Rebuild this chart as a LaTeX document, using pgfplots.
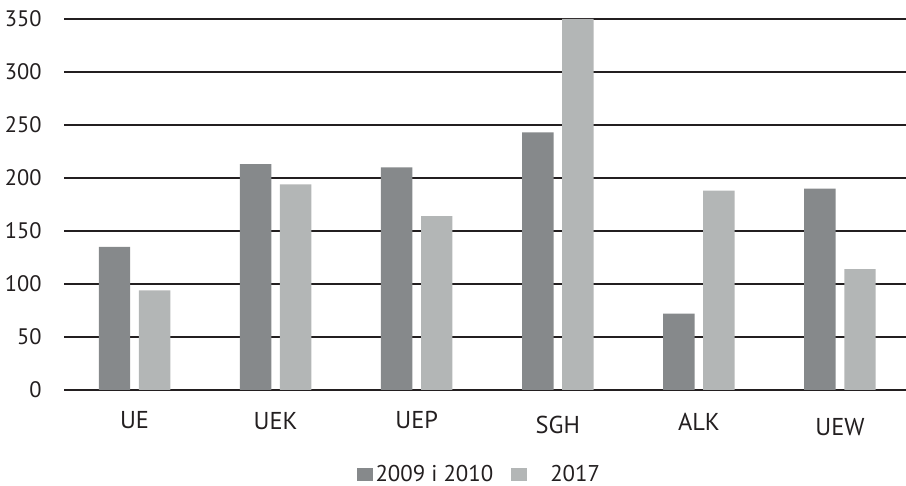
\documentclass[border=0pt]{standalone}
\usepackage{pgfplots}
\pgfplotsset{compat=1.18}
\usepackage{fontspec}
\setmainfont{PT Sans}
\definecolor{darkbar}{HTML}{86898B}
\definecolor{lightbar}{HTML}{B3B6B6}
\definecolor{txt}{HTML}{231F20}
\begin{document}
\begin{tikzpicture}
\begin{axis}[
  at={(32pt,48pt)}, anchor=south west,
  scale only axis, width=421pt, height=185.5pt,
  xmin=-0.5, xmax=5.468, ymin=0, ymax=350,
  ytick={0,50,...,350},
  xtick={0,...,5},
  xticklabels={UE,\raisebox{-0.5pt}{UEK},UEP,\raisebox{-2.5pt}{SGH},\raisebox{-0.8pt}{ALK},\raisebox{-3.3pt}{UEW}},
  ymajorgrids, major grid style={txt, line width=0.8pt},
  axis line style={draw=none},
  major tick length=0pt,
  /pgf/number format/assume math mode=true,
  yticklabel style={font=\fontsize{11.2}{14}\selectfont, text=txt, anchor=east, inner sep=0pt, xshift=-11pt},
  xticklabel style={font=\fontsize{12.2}{14}\selectfont, text=txt, anchor=base, inner sep=0pt, yshift=-19.5pt},
  clip=false,
  legend columns=2,
  legend style={at={(0.492,-0.228)}, anchor=center, draw=none, fill=none,
    font=\fontsize{11.4}{14}\selectfont, text=txt, inner sep=0pt,
    nodes={inner sep=0pt},
    /tikz/every odd column/.append style={column sep=1.5pt},
    /tikz/every even column/.append style={column sep=9pt}},
  legend image code/.code={\fill[#1] (0pt,-3.4pt) rectangle (8pt,3.4pt);},
]
\addplot[ybar, bar width=0.223, bar shift=-0.142, fill=darkbar, draw=none]
  coordinates {(0,135) (1,213) (2,210) (3,243) (4,72) (5,190)};
\addlegendentry{2009 i 2010}
\addplot[ybar, bar width=0.223, bar shift=0.142, fill=lightbar, draw=none]
  coordinates {(0,94) (1,194) (2,164) (3,350) (4,188) (5,114)};
\addlegendentry{\hspace*{10pt}2017}
\end{axis}
\pgfresetboundingbox
\path[use as bounding box] (0,0) rectangle (453pt,243pt);
\end{tikzpicture}
\end{document}
